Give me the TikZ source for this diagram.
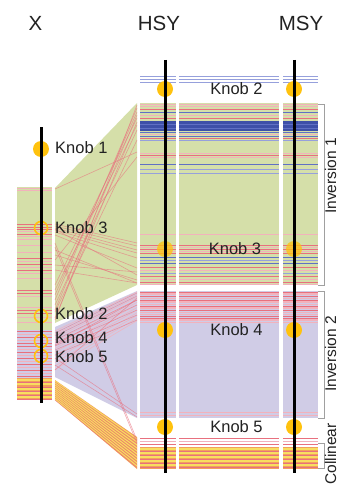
\documentclass[tikz,border=0pt]{standalone}
\usepackage{fontspec}
\setmainfont{Liberation Sans}
\definecolor{grn}{RGB}{213,223,169}
\definecolor{lav}{RGB}{208,204,230}
\definecolor{orng}{RGB}{242,160,92}
\definecolor{yel}{RGB}{248,222,96}
\definecolor{rd}{RGB}{232,112,126}
\definecolor{pk}{RGB}{242,178,188}
\definecolor{bl}{RGB}{96,112,196}
\definecolor{dbl}{RGB}{62,80,168}
\definecolor{lbl}{RGB}{150,160,220}
\definecolor{gold}{RGB}{255,194,14}
\definecolor{txt}{RGB}{34,34,34}
\definecolor{brk}{RGB}{160,160,160}
\begin{document}
\begin{tikzpicture}[x=1pt,y=-1pt,
  title/.style={font=\fontsize{20.5}{22}\selectfont, text=txt, inner sep=0pt},
  knoblbl/.style={font=\fontsize{16.5}{18}\selectfont, text=txt, inner sep=0pt},
  rotlbl/.style={font=\fontsize{15.5}{17}\selectfont, text=txt, inner sep=0pt, rotate=90, anchor=base},
  knobf/.style={circle, fill=gold, minimum size=16pt, inner sep=0pt},
  knobo/.style={circle, draw=gold, line width=1.6pt, minimum size=13pt, inner sep=0pt},
  chrom/.style={line width=3pt, black},
  xlink/.style={rd, opacity=0.6, line width=0.6pt},
  bracket/.style={brk, line width=0.8pt}]
\useasboundingbox (0,0) rectangle (338,487);

% ---------- X track backgrounds
\fill[grn] (17,187) rectangle (52,330);
\fill[lav] (17,330) rectangle (52,378);
\fill[orng] (17,378) rectangle (52,400);
\foreach \y/\c/\w in {188/pk/1,190/pk/0.6,224/rd/0.8,227/rd/1,229/rd/1,231/pk/1,234/rd/0.8,236/pk/0.6,
  239/pk/0.6,245/pk/0.8,252/pk/0.8,258/rd/0.8,261/pk/0.6,264/rd/0.8,267/pk/0.6,270/rd/0.8,273/pk/0.6,278/pk/0.8,
  290/rd/1,293/rd/1,296/pk/0.8,307/pk/0.8,310/rd/1,313/rd/0.8,317/pk/0.8,322/pk/0.6,
  331/rd/1,334/pk/1,337/rd/1,340/pk/0.8,343/rd/1,346/rd/0.8,349/pk/1,352/rd/1,355/pk/0.8,358/rd/0.8,
  361/pk/0.8,364/rd/1,367/pk/0.8,370/rd/0.8,373/pk/0.8,376/rd/0.8,
  380/yel/1.2,382/rd/0.8,384/yel/1.2,387/rd/0.8,389/yel/1.2,391/rd/0.8,393/yel/1.2,395/rd/0.8,397/yel/1.2,399/rd/0.8}
  {\draw[\c, line width=\w pt] (17,\y) -- (52,\y);}

% ---------- links
\fill[grn] (55,188) -- (137,103) -- (137,285) -- (55,323) -- cycle;
\fill[lav] (55,327) -- (137,291) -- (137,418) -- (55,377) -- cycle;
\fill[orng] (55,380) -- (137,437) -- (137,469) -- (55,400) -- cycle;
\foreach \i in {0,...,9}{
  \draw[yel, line width=1pt] (55,{381+2*\i}) -- (137,{439+3*\i});
  \draw[rd, opacity=0.7, line width=0.5pt] (55,{382+2*\i}) -- (137,{440.5+3*\i});
}
\foreach \i in {0,...,11}{
  \draw[pk, opacity=0.8, line width=0.7pt] (55,{331+3.5*\i}) -- (137,{292+2.6*\i});
}
\foreach \a/\b in {300/108,310/115,318/122,305/130,295/112,285/118,312/140,320/105,290/125,
  189/152,260/157,
  226/246,228/250,230/253,232/258,224/243,235/268,229/275,
  255/280,265/272,270/283,250/283,
  333/293,336/296,340/300,343/305,346/310,350/315,355/320,
  243/440,247/443,358/414,365/417,345/300,370/298}
  {\draw[xlink] (55,\a) -- (137,\b);}

% ---------- HSY / MSY blocks
\fill[grn] (140,103) rectangle (318,285);
\fill[lav] (140,291) rectangle (318,418);
\fill[orng] (140,447) rectangle (318,469);
\fill[dbl] (140,121) rectangle (318,131);
\foreach \y/\c/\w in {76/lbl/1,79.3/lbl/0.8,82.7/lbl/1,
  104/pk/1,106/pk/0.8,109/rd/0.6,112/bl/0.8,115/pk/1,118/rd/0.8,
  124/bl/0.6,128/bl/0.6,
  132/bl/1,134/pk/0.8,136/bl/1,138/rd/0.6,140/lbl/0.8,
  153/pk/1,155/rd/0.6,157/pk/1,164/bl/0.7,169/lbl/0.8,173/lbl/0.6,234/pk/0.6,
  245/rd/1,247/pk/1,249/rd/0.8,251/pk/1,253/rd/0.8,257/bl/0.7,260/lbl/0.8,263/bl/0.7,
  267/rd/0.8,270/pk/0.8,273/lbl/0.8,276/rd/0.8,279/pk/0.8,282/rd/0.8,284/pk/0.6,
  292/rd/1,294/pk/1.2,296/rd/1,298/pk/1,300/rd/1,302/pk/1.2,304/pk/1,306/rd/1,308/pk/1.2,
  310/rd/1,312/pk/1,314/pk/1,316/rd/1,318/rd/1,320/pk/1.2,322/pk/1,
  412/pk/1,415/pk/1,
  438/rd/0.8,441/pk/0.8,444/rd/0.8,
  449/yel/1.2,451/rd/0.8,453/yel/1.2,455/rd/0.8,457/yel/1.2,459/rd/0.8,461/yel/1.2,463/rd/0.8,465/yel/1.2,467/rd/0.8}
  {\draw[\c, line width=\w pt] (140,\y) -- (318,\y);}
\fill[white] (176,60) rectangle (179,475);
\fill[white] (279,60) rectangle (283,475);

% ---------- knobs
\node[knobf] (x1) at (41,149) {};
\node[knobo] (x3) at (41,228) {};
\node[knobo] (x2) at (41,316) {};
\node[knobo] (x4) at (41,341) {};
\node[knobo] (x5) at (41,356) {};
\node[knobf] (h2) at (165,89) {};
\node[knobf, opacity=0.75] (h3) at (165,249) {};
\node[knobf] (h4) at (165,330) {};
\node[knobf] (h5) at (165,427) {};
\node[knobf] (m2) at (294,89) {};
\node[knobf, opacity=0.75] (m3) at (294,249) {};
\node[knobf] (m4) at (294,330) {};
\node[knobf] (m5) at (294,427) {};

% ---------- chromosome axes
\coordinate (xt) at (41,127); \coordinate (xb) at (41,403);
\coordinate (ht) at (165,60); \coordinate (hb) at (165,473);
\coordinate (mt) at (294,60); \coordinate (mb) at (294,473);
\draw[chrom] (xt) -- (xb);
\draw[chrom] (ht) -- (hb);
\draw[chrom] (mt) -- (mb);

% ---------- titles and labels
\node[title] (tX) at (35.5,23) {X};
\node[title] (tH) at (159,23) {HSY};
\node[title] (tM) at (301,23) {MSY};
\node[knoblbl, anchor=west] (l1) at (55,148) {Knob 1};
\node[knoblbl, anchor=west] (l3) at (55,228) {Knob 3};
\node[knoblbl, anchor=west] (l2) at (55,314) {Knob 2};
\node[knoblbl, anchor=west] (l4) at (55,338) {Knob 4};
\node[knoblbl, anchor=west] (l5) at (55,357) {Knob 5};
\node[knoblbl] (c2) at (236.5,89) {Knob 2};
\node[knoblbl] (c3) at (235,249) {Knob 3};
\node[knoblbl] (c4) at (236.5,330) {Knob 4};
\node[knoblbl] (c5) at (236.5,427) {Knob 5};

% ---------- brackets
\draw[bracket] (318,104) -- (324,104) -- (324,285) -- (318,285);
\draw[bracket] (318,291) -- (324,291) -- (324,418) -- (318,418);
\draw[bracket] (318,443) -- (324,443) -- (324,468) -- (318,468);
\node[rotlbl] (i1) at (336,176) {Inversion 1};
\node[rotlbl] (i2) at (336,354) {Inversion 2};
\node[rotlbl] (i3) at (336,454) {Collinear};
\end{tikzpicture}
\end{document}
